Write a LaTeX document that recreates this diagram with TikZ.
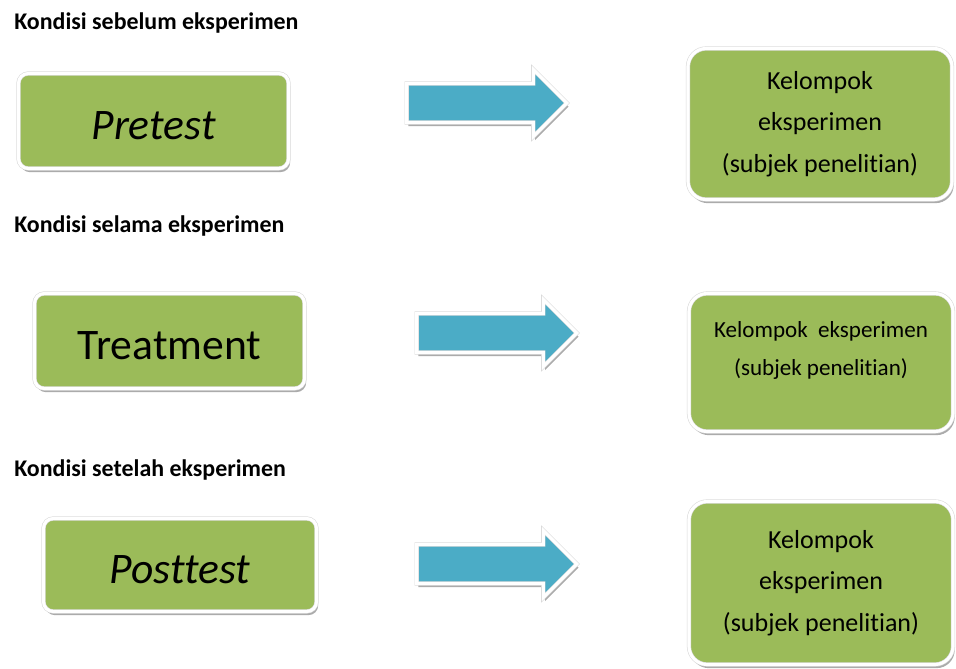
\documentclass[tikz,border=0pt]{standalone}
\usepackage{fontspec}
\setmainfont{Carlito}[Ligatures=NoCommon]
\usepackage{tikz}
\usetikzlibrary{shapes.arrows, shadows}

\definecolor{boxgreen}{HTML}{9BBB59}
\definecolor{arrowblue}{HTML}{4BACC6}

\begin{document}
\begin{tikzpicture}[x=0.025cm, y=-0.025cm,
            heading/.style={anchor=base west, inner sep=0pt, font=\bfseries\fontsize{17}{20}\selectfont},
            rim/.style={draw=black!15, double=white, double distance=2.2pt,
                drop shadow={shadow xshift=1.2pt, shadow yshift=-2.6pt, fill=black!60, opacity=0.55}},
            stagebox/.style={rim, rectangle, rounded corners=7pt, fill=boxgreen, inner sep=0pt,
                minimum width=6.75cm, minimum height=2.375cm, text height=26pt, text depth=0pt,
                font=\fontsize{31}{36}\selectfont},
            groupbox/.style={rim, rectangle, rounded corners=13pt, fill=boxgreen, inner sep=0pt,
                minimum width=6.6cm, align=center, font=\fontsize{18.5}{29.5}\selectfont},
            blockarrow/.style={rim, single arrow, fill=arrowblue, inner xsep=0pt, inner ysep=0.48cm,
                anchor=tail, minimum height=4.0cm, single arrow head extend=0.35cm}]

            \useasboundingbox (0,0) rectangle (956,669);

            \node[heading] (h1) at (14,30) {Kondisi sebelum eksperimen};
            \node[stagebox] (pre) at (153.5,121) {\itshape Pretest};
            \node[blockarrow] (a1) at (406.5,103) {};
            \node[groupbox, minimum height=3.775cm] (g1) at (820,124) {Kelompok\\eksperimen\\(subjek penelitian)};

            \node[heading] (h2) at (14,233) {Kondisi selama eksperimen};
            \node[stagebox] (treat) at (169.5,341) {Treatment};
            \node[blockarrow] (a2) at (416.5,333) {};
            \node[groupbox, minimum height=3.45cm] (g2) at (821,362.5) {};
            \node[align=center, font=\fontsize{16.4}{27}\selectfont] (g2t) at ([yshift=0.3cm]g2.center) {Kelompok~~eksperimen\\(subjek penelitian)};

            \node[heading] (h3) at (14,477) {Kondisi setelah eksperimen};
            \node[stagebox, minimum width=6.825cm, minimum height=2.325cm] (post) at (180,565) {\itshape Posttest};
            \node[blockarrow] (a3) at (416.5,564) {};
            \node[groupbox, minimum height=4.075cm] (g3) at (821,583) {Kelompok\\eksperimen\\(subjek penelitian)};
\end{tikzpicture}
\end{document}
